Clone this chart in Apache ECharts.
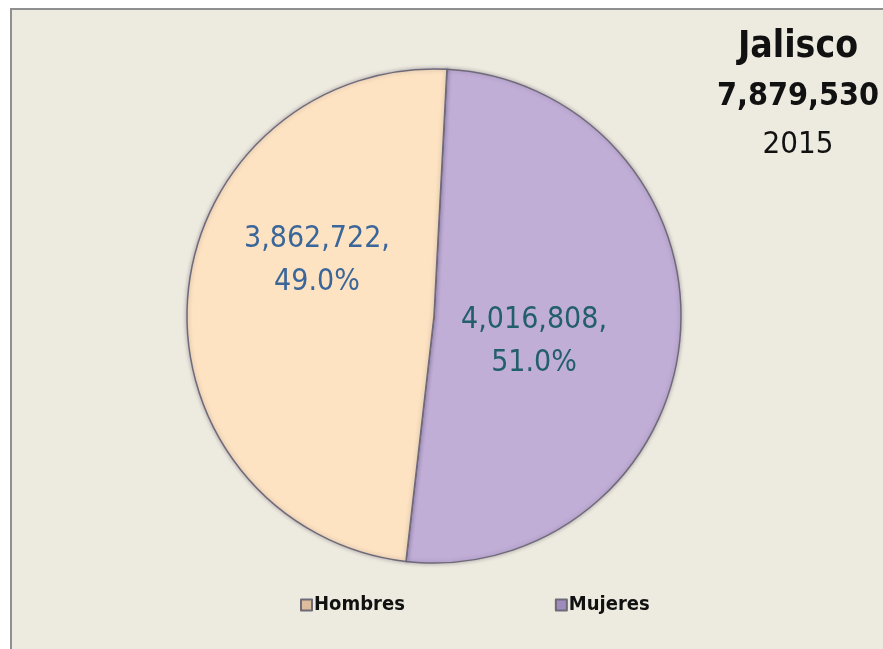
<!DOCTYPE html>
<html>
<head>
<meta charset="utf-8">
<script src="https://cdn.jsdelivr.net/npm/echarts@6/dist/echarts.min.js"></script>
<style>
	body{margin:0;background:#fff;}
	#frame{position:absolute;left:10px;top:8px;width:890px;height:660px;background:#EDEADF;border-left:2px solid #8f8f8f;border-top:2px solid #8f8f8f;}
	#main{position:absolute;left:0;top:0;width:883px;height:649px;}
</style>
</head>
<body>
<div id="frame"></div>
<div id="main"></div>
<script>
var FONT = '"Liberation Sans Narrow","Arial Narrow","DejaVu Sans Condensed",sans-serif';

// datos
var categorias = ['Mujeres','Hombres'];
var poblacion = [4016808, 3862722];
var porcentajes = ['51.0%','49.0%'];
var estado = 'Jalisco';
var total = '7,879,530';
var anio = '2015';

var COLOR = {
	SLICE:{
		Mujeres:'#C1AED7',
		Hombres:'#FDE3C2'
	},
	LEGEND:{
		Mujeres:'#9E8CBC',
		Hombres:'#DDBD9C'
	},
	LABEL:{
		Mujeres:'#225E6C',
		Hombres:'#3B6699'
	}
};

// posicion de etiquetas (ajuste)
var labelOffset = {
	Mujeres:[-26,15],
	Hombres:[9,-45]
};

function fmt(n){
	return n.toString().replace(/\B(?=(\d{3})+(?!\d))/g, ',');
}

function buildData(){
	var arr = [];
	for(var i = 0; i < categorias.length; i++){
		var name = categorias[i];
		arr.push({
			name:name,
			value:poblacion[i],
			itemStyle:{color:COLOR.SLICE[name]},
			label:{
				color:COLOR.LABEL[name],
				offset:labelOffset[name],
				formatter:fmt(poblacion[i]) + ',\n' + porcentajes[i]
			}
		});
	}
	return arr;
}

var myChart = echarts.init(document.getElementById('main'));
myChart.setOption({
	animation:false,
	title:{
		text:'{a|' + estado + '}\n{c|' + total + '}\n{b|' + anio + '}',
		left:793,
		top:17,
		textAlign:'center',
		textStyle:{
			rich:{
				a:{fontFamily:FONT,fontSize:37,fontWeight:'bold',color:'#111',lineHeight:50,align:'center'},
				c:{fontFamily:FONT,fontSize:32,fontWeight:'bold',color:'#111',lineHeight:50,align:'center'},
				b:{fontFamily:FONT,fontSize:31,fontWeight:'normal',color:'#111',lineHeight:46,align:'center'}
			}
		}
	},
	legend:{
		left:295,
		top:590,
		itemWidth:11,
		itemHeight:11,
		itemGap:150,
		icon:'rect',
		textStyle:{fontFamily:FONT,fontSize:20,fontWeight:'bold',color:'#111',padding:[0,0,0,-3]},
		data:[
			{name:'Hombres',itemStyle:{color:COLOR.LEGEND.Hombres}},
			{name:'Mujeres',itemStyle:{color:COLOR.LEGEND.Mujeres}}
		]
	},
	series:[
		{
			type:'pie',
			center:[434,316],
			radius:247,
			startAngle:87,
			clockwise:true,
			itemStyle:{
				borderColor:'#6f6a78',
				borderWidth:1.5,
				shadowColor:'rgba(60,50,80,0.35)',
				shadowBlur:4
			},
			label:{
				show:true,
				position:'inside',
				fontFamily:FONT,
				fontSize:30,
				lineHeight:43
			},
			labelLine:{show:false},
			emphasis:{disabled:true},
			data:buildData()
		}
	]
});
</script>
</body>
</html>
